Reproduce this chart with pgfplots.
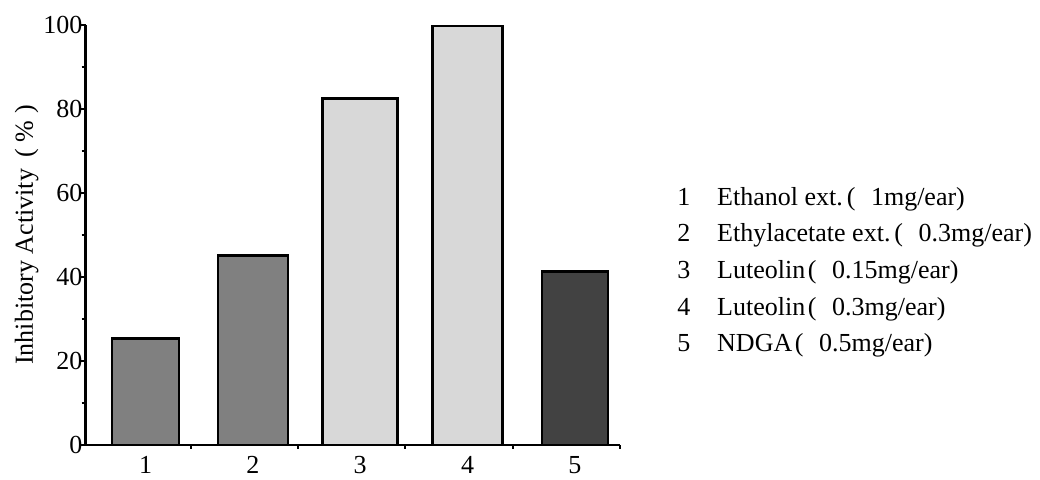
\documentclass[border=0pt]{standalone}
\usepackage{fontspec}
\setmainfont{Liberation Serif}
\usepackage{pgfplots}
\pgfplotsset{compat=1.18}

\definecolor{midgray}{RGB}{128,128,128}
\definecolor{lightgray}{RGB}{216,216,216}
\definecolor{darkgray}{RGB}{66,66,66}

\newcommand{\chartfont}{\fontsize{26}{31}\selectfont}

\begin{document}
\begin{tikzpicture}
\begin{axis}[
    scale only axis,
    width=534.5pt, height=420pt,
    axis x line*=bottom, axis y line*=left,
    axis line style={line width=2.5pt},
    xmin=0.441, xmax=5.42,
    ymin=0, ymax=100,
    xtick={1,2,3,4,5},
    minor xtick={1.42,2.42,3.42,4.42,5.42},
    ytick={0,20,40,60,80,100},
    minor ytick={10,30,50,70,90},
    tick align=outside,
    major x tick style={draw=none},
    major tick length=6pt, minor tick length=4pt,
    every tick/.style={black, line width=2pt},
    /pgf/number format/assume math mode=true,
    tick label style={font=\chartfont},
    yticklabel style={inner sep=0pt, xshift=3pt},
    xticklabel style={yshift=-2pt},
    ylabel={Inhibitory Activity\hspace{0.45em}(\hspace{0.25em}\%\hspace{0.25em})},
    ylabel style={font=\chartfont, at={(axis description cs:-0.11,0.5)}, anchor=center},
    clip=false,
]
\addplot[ybar, bar width=67pt, bar shift=0pt, fill=midgray, draw=black, line width=2.5pt]
  coordinates {(1,25.4)};
\addplot[ybar, bar width=70pt, bar shift=0pt, fill=midgray, draw=black, line width=2.5pt]
  coordinates {(2,45.1)};
\addplot[ybar, bar width=75pt, bar shift=0pt, fill=lightgray, draw=black, line width=2.5pt]
  coordinates {(3,82.5)};
\addplot[ybar, bar width=70pt, bar shift=0pt, fill=lightgray, draw=black, line width=2.5pt]
  coordinates {(4,99.8)};
\addplot[ybar, bar width=66pt, bar shift=0pt, fill=darkgray, draw=black, line width=2.5pt]
  coordinates {(5,41.3)};

% legend as plain text
\node[font=\chartfont, inner sep=0pt, anchor=base] at (axis description cs:1.1197,0.5702) {1};
\node[font=\chartfont, inner sep=0pt, anchor=base] at (axis description cs:1.1197,0.4845) {2};
\node[font=\chartfont, inner sep=0pt, anchor=base] at (axis description cs:1.1197,0.3964) {3};
\node[font=\chartfont, inner sep=0pt, anchor=base] at (axis description cs:1.1197,0.3083) {4};
\node[font=\chartfont, inner sep=0pt, anchor=base] at (axis description cs:1.1197,0.2226) {5};
\node[font=\chartfont, inner sep=0pt, anchor=base west] at (axis description cs:1.1815,0.5702) {Ethanol ext.\hspace{0.15em}(\hspace{0.6em}1mg/ear)};
\node[font=\chartfont, inner sep=0pt, anchor=base west] at (axis description cs:1.1815,0.4845) {Ethylacetate ext.\hspace{0.15em}(\hspace{0.6em}0.3mg/ear)};
\node[font=\chartfont, inner sep=0pt, anchor=base west] at (axis description cs:1.1815,0.3964) {Luteolin\hspace{0.1em}(\hspace{0.6em}0.15mg/ear)};
\node[font=\chartfont, inner sep=0pt, anchor=base west] at (axis description cs:1.1815,0.3083) {Luteolin\hspace{0.1em}(\hspace{0.6em}0.3mg/ear)};
\node[font=\chartfont, inner sep=0pt, anchor=base west] at (axis description cs:1.1815,0.2226) {NDGA\hspace{0.1em}(\hspace{0.6em}0.5mg/ear)};

\coordinate (bbA) at (axis description cs:-0.16,-0.0833);
\coordinate (bbB) at (axis description cs:1.7858,1.0595);
\end{axis}
\pgfresetboundingbox
\path[use as bounding box] (bbA) rectangle (bbB);
\end{tikzpicture}
\end{document}
